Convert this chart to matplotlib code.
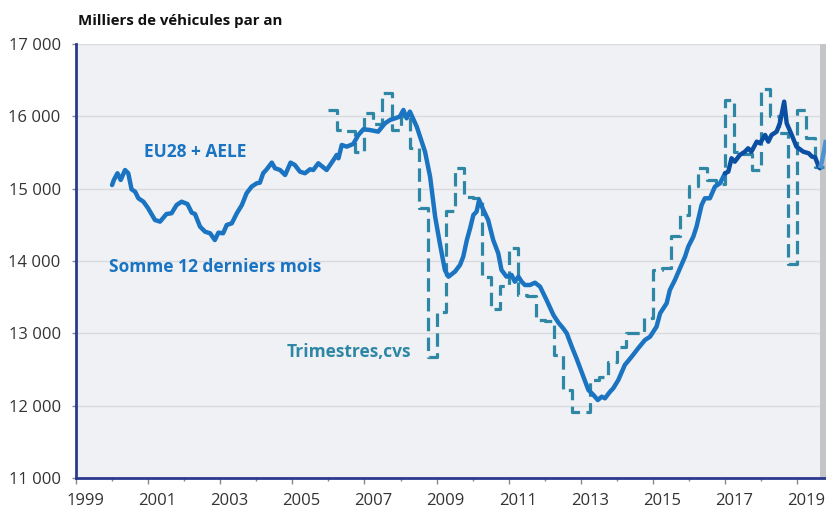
import matplotlib
matplotlib.use("Agg")
import matplotlib.pyplot as plt
import matplotlib.transforms as mtransforms
import numpy as np

plt.rcParams['font.family'] = ['Open Sans', 'DejaVu Sans']

# ---- Data: 12-month rolling sum (thousands of vehicles) ----
sum_years = [2000.00, 2000.05, 2000.15, 2000.24, 2000.36, 2000.45, 2000.54, 2000.64, 2000.73, 2000.87,
             2001.00, 2001.19, 2001.33, 2001.51, 2001.65, 2001.79, 2001.93, 2002.09, 2002.21, 2002.30,
             2002.44, 2002.58, 2002.72, 2002.85, 2002.95, 2003.08, 2003.18, 2003.32, 2003.46, 2003.60,
             2003.73, 2003.87, 2004.01, 2004.10, 2004.19, 2004.29, 2004.43, 2004.52, 2004.66, 2004.80,
             2004.95, 2005.07, 2005.21, 2005.35, 2005.49, 2005.58, 2005.72, 2005.95, 2006.14, 2006.23,
             2006.28, 2006.37, 2006.51, 2006.69, 2006.83, 2006.97, 2007.15, 2007.38, 2007.57, 2007.71,
             2007.85, 2007.98, 2008.08, 2008.17, 2008.26, 2008.45, 2008.68, 2008.82, 2008.96, 2009.09,
             2009.23, 2009.33, 2009.51, 2009.65, 2009.74, 2009.84, 2009.93, 2010.02, 2010.11, 2010.18,
             2010.29, 2010.43, 2010.57, 2010.71, 2010.80, 2010.94, 2011.08, 2011.17, 2011.27, 2011.36,
             2011.45, 2011.59, 2011.73, 2011.87, 2012.05, 2012.24, 2012.38, 2012.51, 2012.61, 2012.75,
             2012.88, 2013.02, 2013.21, 2013.35, 2013.47, 2013.58, 2013.67, 2013.81, 2013.90, 2014.04,
             2014.22, 2014.41, 2014.59, 2014.78, 2014.92, 2015.10, 2015.20, 2015.38, 2015.47, 2015.61,
             2015.75, 2015.89, 2015.98, 2016.12, 2016.21, 2016.35, 2016.44, 2016.58, 2016.72, 2016.86,
             2017.00, 2017.09, 2017.18, 2017.27, 2017.41, 2017.55, 2017.64, 2017.73, 2017.88, 2017.97,
             2018.11, 2018.20, 2018.29, 2018.43, 2018.52, 2018.64, 2018.71, 2018.85, 2018.98, 2019.17,
             2019.32, 2019.41, 2019.50, 2019.59, 2019.63, 2019.68, 2019.80]
sum_values = [15050, 15120, 15213, 15120, 15258, 15213, 14992, 14958, 14867, 14820,
              14729, 14567, 14544, 14650, 14660, 14774, 14820, 14788, 14668, 14650,
              14475, 14405, 14383, 14290, 14392, 14383, 14498, 14521, 14660, 14774,
              14936, 15028, 15074, 15083, 15213, 15268, 15360, 15282, 15258, 15189,
              15360, 15327, 15235, 15213, 15268, 15258, 15351, 15258, 15396, 15466,
              15420, 15604, 15581, 15618, 15742, 15821, 15811, 15788, 15904, 15950,
              15973, 15996, 16088, 15973, 16065, 15857, 15511, 15166, 14613, 14245,
              13876, 13783, 13853, 13945, 14060, 14291, 14452, 14636, 14682, 14844,
              14715, 14567, 14291, 14107, 13876, 13783, 13807, 13714, 13783, 13714,
              13668, 13668, 13700, 13645, 13461, 13254, 13147, 13070, 13001, 12815,
              12655, 12470, 12217, 12148, 12078, 12124, 12102, 12193, 12240, 12355,
              12562, 12677, 12793, 12908, 12953, 13092, 13277, 13415, 13599, 13738,
              13899, 14060, 14198, 14336, 14475, 14774, 14867, 14867, 15028, 15074,
              15213, 15235, 15420, 15373, 15466, 15511, 15558, 15511, 15650, 15627,
              15742, 15650, 15742, 15788, 15904, 16203, 15904, 15742, 15581, 15511,
              15489, 15443, 15433, 15314, 15282, 15360, 15673]

# ---- Data: quarterly, seasonally adjusted (annualised), 2006Q1 .. 2019Q3 ----
q_start_year = 2006
q_values = [16090, 15810, 15800, 15510,
            16040, 15900, 16320, 15810,
            16000, 15560, 14730, 12670,
            13300, 14690, 15280, 14890,
            14870, 13780, 13330, 13650,
            14180, 13530, 13520, 13180,
            13170, 12700, 12210, 11910,
            11910, 12360, 12400, 12610,
            12815, 13000, 13010, 13210,
            13880, 13900, 14340, 14640,
            15030, 15290, 15120, 15060,
            16230, 15500, 15480, 15260,
            16380, 16000, 15770, 13960,
            16090, 15700, 15300]

y_ticks = [11000, 12000, 13000, 14000, 15000, 16000, 17000]
x_label_years = [1999, 2001, 2003, 2005, 2007, 2009, 2011, 2013, 2015, 2017, 2019]
x_minor_years = [2000, 2002, 2004, 2006, 2008, 2010, 2012, 2014, 2016, 2018]

title = "Milliers de véhicules par an"
label_zone = "EU28 + AELE"
label_sum = "Somme 12 derniers mois"
label_q = "Trimestres,cvs"

color_sum = "#1A74C2"
color_sum_dark = "#0B4FA3"
color_sum_light = "#4E92D2"
color_q = "#2E87A4"
dark_change = 2016.9
band_start = 2019.63

# ---- Figure ----
W, H = 826, 509
fig = plt.figure(figsize=(W / 100, H / 100), dpi=100)
ax = fig.add_axes([76 / W, (H - 478) / H, (W - 76) / W, (478 - 44) / H])
ax.set_facecolor("#F0F1F4")

ax.set_xlim(1999, 2019.80)
ax.set_ylim(11000, 17000)

# grid
ax.set_yticks(y_ticks)
ax.set_yticklabels([f"{v:,}".replace(",", " ") for v in y_ticks])
ax.yaxis.grid(True, color="#D9DADD", lw=1.0)
ax.set_axisbelow(True)

# grey band at the right edge
ax.axvspan(band_start, 2019.80, color="#C4C5C7", lw=0, zorder=1)

# quarterly dashed series (steps)
q_x = [q_start_year + i / 4 for i in range(len(q_values))]
q_x_plot = q_x + [q_x[-1] + 0.25]
q_v_plot = q_values + [q_values[-1]]
ax.plot(q_x_plot, q_v_plot, drawstyle="steps-post", color=color_q, lw=2.3,
        dashes=(4.2, 2.0), zorder=3, dash_capstyle="butt")

# rolling sum line, segmented by colour
yrs = np.array(sum_years)
vals = np.array(sum_values)
i1 = np.where(yrs <= dark_change)[0][-1]
i2 = np.where(yrs <= band_start)[0][-1]
ax.plot(yrs[:i1 + 2], vals[:i1 + 2], color=color_sum, lw=3.2, zorder=4,
        solid_joinstyle="round", solid_capstyle="round")
ax.plot(yrs[i1 + 1:i2 + 1], vals[i1 + 1:i2 + 1], color=color_sum_dark, lw=3.2, zorder=4,
        solid_joinstyle="round", solid_capstyle="round")
ax.plot(yrs[i2:], vals[i2:], color=color_sum_light, lw=3.2, zorder=4,
        solid_joinstyle="round", solid_capstyle="butt")

# spines
for s in ["top", "right"]:
    ax.spines[s].set_visible(False)
for s in ["left", "bottom"]:
    ax.spines[s].set_color("#2B3A8F")
    ax.spines[s].set_linewidth(2.0)
    ax.spines[s].set_zorder(5)

# x ticks
ax.set_xticks(x_label_years)
ax.set_xticklabels([str(y) for y in x_label_years])
ax.set_xticks(x_minor_years, minor=True)
ax.tick_params(axis="x", which="major", length=4, width=1, color="#888888", pad=7,
               labelsize=12, labelcolor="#333333")
ax.tick_params(axis="x", which="minor", length=2.5, width=1, color="#888888")
ax.tick_params(axis="y", which="major", length=3, width=1, color="#888888", pad=8,
               labelsize=12, labelcolor="#333333")
offset = mtransforms.ScaledTranslation(9 / 100, 0, fig.dpi_scale_trans)
for lbl in ax.get_xticklabels():
    lbl.set_transform(lbl.get_transform() + offset)

# texts
fig.text(78 / W, 1 - 21 / H, title, fontsize=10.8, fontweight="bold", color="#111111",
         ha="left", va="center")
fig.text(195 / W, 1 - 152 / H, label_zone, fontsize=12.5, fontweight="bold", color=color_sum,
         ha="center", va="center")
fig.text(109 / W, 1 - 267 / H, label_sum, fontsize=12.5, fontweight="bold", color=color_sum,
         ha="left", va="center")
fig.text(287 / W, 1 - 352 / H, label_q, fontsize=12.5, fontweight="bold", color=color_q,
         ha="left", va="center")

fig.savefig("out.png", dpi=100)
